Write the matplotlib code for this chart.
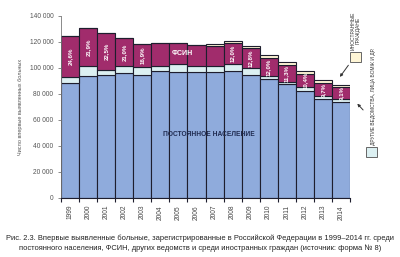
import matplotlib
matplotlib.use("Agg")
import matplotlib.pyplot as plt
import numpy as np
from matplotlib.patches import Rectangle

plt.rcParams['font.family'] = ['Liberation Sans', 'DejaVu Sans']

years = [str(y) for y in range(1999, 2015)]
permanent = [88400, 93600, 94600, 95900, 94800, 97700, 96600, 96900,
             96900, 97700, 94800, 91700, 87400, 82500, 76400, 74100]
other = [4900, 8100, 3800, 5600, 6200, 3800, 6200, 4800,
         4600, 5300, 5400, 2100, 1800, 2600, 2000, 2000]
fsin = [31000, 28800, 28700, 21800, 17200, 17400, 16700, 16000,
        15400, 16000, 14900, 14100, 12800, 10300, 10000, 9000]
foreign = [0, 0, 0, 0, 0, 0, 0, 0,
           1800, 2000, 2000, 1800, 2600, 2500, 2300, 1800]
pct_labels = ["24,6%", "21,9%", "22,5%", "21,0%", "16,9%", "", "", "",
              "", "12,0%", "12,8%", "12,0%", "11,3%", "10,4%", "9,7%", "9,1%"]
fsin_label = "ФСИН"
fsin_label_idx = 6
yticks = [0, 20000, 40000, 60000, 80000, 100000, 120000, 140000]
ytick_labels = ["0", "20 000", "40 000", "60 000", "80 000", "100 000", "120 000", "140 000"]

W, H = 400, 257
fig = plt.figure(figsize=(4.0, 2.57), dpi=100)
ax = fig.add_axes([61 / W, 1 - 198 / H, (350 - 61) / W, (198 - 16) / H])

c_perm = "#8FABDC"
c_other = "#DCF0F2"
c_fsin = "#A12C6C"
c_foreign = "#FFF6D6"
ec = "#1E1E2E"

x = np.arange(len(years))
perm = np.array(permanent)
oth = np.array(other)
fs = np.array(fsin)
fo = np.array(foreign)

kw = dict(width=1.0, edgecolor=ec, linewidth=0.8)
ax.bar(x, perm, color=c_perm, **kw)
ax.bar(x, oth, bottom=perm, color=c_other, **kw)
ax.bar(x, fs, bottom=perm + oth, color=c_fsin, **kw)
ax.bar(x, fo, bottom=perm + oth + fs, color=c_foreign, **kw)

for i, lab in enumerate(pct_labels):
    if lab:
        ax.text(x[i], perm[i] + oth[i] + fs[i] / 2, lab, rotation=90,
                ha='center', va='center', color='white', fontsize=4.4,
                fontweight='bold')
ax.text(x[fsin_label_idx] + 0.2, perm[fsin_label_idx] + oth[fsin_label_idx] + fs[fsin_label_idx] / 2,
        fsin_label, ha='center', va='center', color='white', fontsize=5,
        fontweight='bold')
ax.text(7.7, 48800, "ПОСТОЯННОЕ НАСЕЛЕНИЕ", ha='center', va='center',
        color='#1F2A50', fontsize=4.8, fontweight='bold')

ax.set_xlim(-0.5, len(years) - 0.5)
ax.set_ylim(0, 140000)
ax.set_yticks(yticks)
ax.set_yticklabels(ytick_labels, fontsize=4.8, color='#555555')
ax.set_xticks(x)
ax.set_xticklabels(years, rotation=90, fontsize=4.8, color='#444444')
ax.set_xticks(np.arange(len(years) + 1) - 0.5, minor=True)
ax.tick_params(axis='x', which='major', length=0, pad=5)
ax.tick_params(axis='x', which='minor', length=3, color=ec, width=0.8)
ax.tick_params(axis='y', length=2.5, color='#777777', width=0.6, pad=3)
for s in ['top', 'right']:
    ax.spines[s].set_visible(False)
ax.spines['left'].set_color('#777777')
ax.spines['left'].set_linewidth(0.6)
ax.spines['bottom'].set_color(ec)
ax.spines['bottom'].set_linewidth(0.8)
ax.set_ylabel("Число впервые выявленных больных", fontsize=4, color='#555555', labelpad=5)

# legend boxes (figure fraction)
fig.patches.append(Rectangle((350 / W, 1 - 62 / H), 11 / W, 10 / H, transform=fig.transFigure,
                             facecolor=c_foreign, edgecolor='#666666', linewidth=0.7))
fig.text(356 / W, 1 - 50 / H, "ИНОСТРАННЫЕ\nГРАЖДАНЕ", rotation=90, ha='center', va='bottom',
         fontsize=3.6, color='#333333', linespacing=1.0)
fig.patches.append(Rectangle((366 / W, 1 - 157 / H), 11 / W, 10 / H, transform=fig.transFigure,
                             facecolor=c_other, edgecolor='#666666', linewidth=0.7))
fig.text(373 / W, 1 - 145 / H, "ДРУГИЕ ВЕДОМСТВА, ЛИЦА БОМЖ И ДР.", rotation=90,
         ha='center', va='bottom', fontsize=3.5, color='#333333')

top14 = perm[-1] + oth[-1] + fs[-1] + fo[-1]
ax.annotate("", xy=(x[-1] - 0.15, top14 + 4500), xycoords='data',
            xytext=(350 / W, 1 - 63 / H), textcoords='figure fraction',
            arrowprops=dict(arrowstyle='-|>', color='#333333', lw=0.7, mutation_scale=4),
            annotation_clip=False)
ax.annotate("", xy=(x[-1] + 0.8, perm[-1] + oth[-1] - 2000), xycoords='data',
            xytext=(365 / W, 1 - 112 / H), textcoords='figure fraction',
            arrowprops=dict(arrowstyle='-|>', color='#333333', lw=0.7, mutation_scale=4),
            annotation_clip=False)

fig.text(200 / W, 1 - 238 / H,
         "Рис. 2.3. Впервые выявленные больные, зарегистрированные в Российской Федерации в 1999–2014 гг. среди",
         ha='center', va='center', fontsize=5.45, color='#222222')
fig.text(200 / W, 1 - 248 / H,
         "постоянного населения, ФСИН, других ведомств и среди иностранных граждан (источник: форма № 8)",
         ha='center', va='center', fontsize=5.45, color='#222222')

fig.savefig("out.png", dpi=100)
